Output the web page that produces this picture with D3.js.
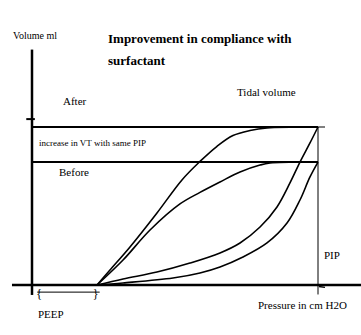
<!DOCTYPE html>
<html>
<head>
<meta charset="utf-8">
<script src="https://cdn.jsdelivr.net/npm/d3@7"></script>
<style>
    body { margin: 0; background: #fff; }
</style>
</head>
<body>
<div id="chart"></div>
<script>
// pressure (cm H2O) / volume (% of VT after surfactant)
var peep = 6.8;
var pip = 30;
var vtAfter = 100;
var vtBefore = 77.8;

// after surfactant - deflation limb (upper)
var afterDeflation = [
    [6.82, 0], [8.18, 9.5], [10.28, 24.1], [13.11, 45.6], [15.73, 66.5], [17.62, 78.2],
    [19.41, 87.8], [21.08, 94.6], [22.87, 97.8], [24.65, 99.4], [30, 100]
];
// before surfactant - deflation limb
var beforeDeflation = [
    [6.82, 0], [9.55, 15.8], [12.38, 34.8], [15.52, 51.3], [17.62, 58.6], [19.72, 65.2],
    [21.82, 71.5], [23.92, 75.9], [24.97, 77.2], [30, 77.8]
];
// after surfactant - inflation limb
var afterInflation = [
    [6.82, 0], [9.55, 3.8], [13.11, 8.2], [16.57, 13.9], [19.72, 20.3], [21.82, 26.6],
    [23.92, 36.7], [25.70, 49.4], [27.06, 64.6], [28.11, 77.8], [29.16, 89.9], [30, 100]
];
// before surfactant - inflation limb
var beforeInflation = [
    [6.82, 0], [9.55, 1.3], [14.79, 4.4], [17.62, 7.6], [19.72, 11.4], [22.13, 17.7],
    [24.65, 26.6], [26.75, 39.2], [28.11, 53.8], [29.16, 68.4], [30, 77.8]
];

var titleLines = ["Improvement in compliance with", "surfactant"];

var width = 361, height = 335;
var serif = "'Liberation Serif', 'Times New Roman', Times, serif";

var svg = d3.select("#chart").append("svg")
    .attr("width", width)
    .attr("height", height);

//坐标比例
var x = d3.scaleLinear().domain([0, pip]).range([32, 318]);
var y = d3.scaleLinear().domain([0, vtAfter]).range([285, 127]);

//坐标轴 (plain lines, no ticks)
svg.append("line")
    .attr("x1", x(-2.1)).attr("x2", width)
    .attr("y1", y(0)).attr("y2", y(0))
    .attr("stroke", "#000").attr("stroke-width", 2.5);
svg.append("line")
    .attr("x1", x(0)).attr("x2", x(0))
    .attr("y1", y(149)).attr("y2", y(-6.3))
    .attr("stroke", "#000").attr("stroke-width", 2.5);
// small tick on the volume axis
svg.append("line")
    .attr("x1", x(-0.6)).attr("x2", x(0.3))
    .attr("y1", y(105)).attr("y2", y(105))
    .attr("stroke", "#000").attr("stroke-width", 2);

//tidal volume lines
svg.append("line")
    .attr("x1", x(0)).attr("x2", x(pip))
    .attr("y1", y(vtAfter)).attr("y2", y(vtAfter))
    .attr("stroke", "#000").attr("stroke-width", 2);
svg.append("line")
    .attr("x1", x(pip)).attr("x2", x(pip) + 7)
    .attr("y1", y(vtAfter)).attr("y2", y(vtAfter))
    .attr("stroke", "#000").attr("stroke-width", 1);
svg.append("line")
    .attr("x1", x(0)).attr("x2", x(pip))
    .attr("y1", y(vtBefore)).attr("y2", y(vtBefore))
    .attr("stroke", "#000").attr("stroke-width", 2);

//PIP vertical
svg.append("line")
    .attr("x1", x(pip)).attr("x2", x(pip))
    .attr("y1", y(vtAfter)).attr("y2", y(-6))
    .attr("stroke", "#000").attr("stroke-width", 1);
// little mark on the pressure axis at PIP
svg.append("line")
    .attr("x1", x(pip) + 1).attr("x2", x(pip) + 7)
    .attr("y1", y(-1)).attr("y2", y(-1.5))
    .attr("stroke", "#000").attr("stroke-width", 1.5);

//PEEP bracket
svg.append("line")
    .attr("x1", x(0.55)).attr("x2", x(7.1))
    .attr("y1", y(-4.5)).attr("y2", y(-4.5))
    .attr("stroke", "#000").attr("stroke-width", 1);
svg.append("text").attr("x", x(0.45)).attr("y", y(-8))
    .style("font-family", serif).style("font-size", "12px").text("{");
svg.append("text").attr("x", x(peep) - 4).attr("y", y(-8))
    .style("font-family", serif).style("font-size", "12px").text("}");

//压力-容积曲线
var line = d3.line()
    .x(function (d) { return x(d[0]); })
    .y(function (d) { return y(d[1]); })
    .curve(d3.curveCatmullRom.alpha(0.5));

[afterDeflation, beforeDeflation, afterInflation, beforeInflation].forEach(function (s) {
    svg.append("path")
        .attr("d", line(s))
        .attr("fill", "none")
        .attr("stroke", "#000")
        .attr("stroke-width", 1.6);
});

//标题
svg.append("text")
    .attr("x", 108).attr("y", 43)
    .style("font-family", serif)
    .style("font-size", "13px").style("font-weight", "bold")
    .selectAll("tspan").data(titleLines)
    .enter().append("tspan")
    .attr("x", 108)
    .attr("dy", function (d, i) { return i == 0 ? 0 : 22; })
    .text(function (d) { return d; });

//标签
var labels = [
    { t: "Volume ml", x: 13, y: 39, s: 10 },
    { t: "After", x: 63, y: 105, s: 11 },
    { t: "Tidal volume", x: 237, y: 96, s: 11 },
    { t: "increase in VT with same PIP", x: 39, y: 146, s: 9 },
    { t: "Before", x: 59, y: 176, s: 11 },
    { t: "PIP", x: 324, y: 259, s: 11 },
    { t: "Pressure in cm H2O", x: 258, y: 309, s: 11 },
    { t: "PEEP", x: 38, y: 318, s: 11 }
];
svg.selectAll("text.lbl").data(labels)
    .enter().append("text")
    .attr("class", "lbl")
    .attr("x", function (d) { return d.x; })
    .attr("y", function (d) { return d.y; })
    .style("font-family", serif)
    .style("font-size", function (d) { return d.s + "px"; })
    .text(function (d) { return d.t; });
</script>
</body>
</html>
